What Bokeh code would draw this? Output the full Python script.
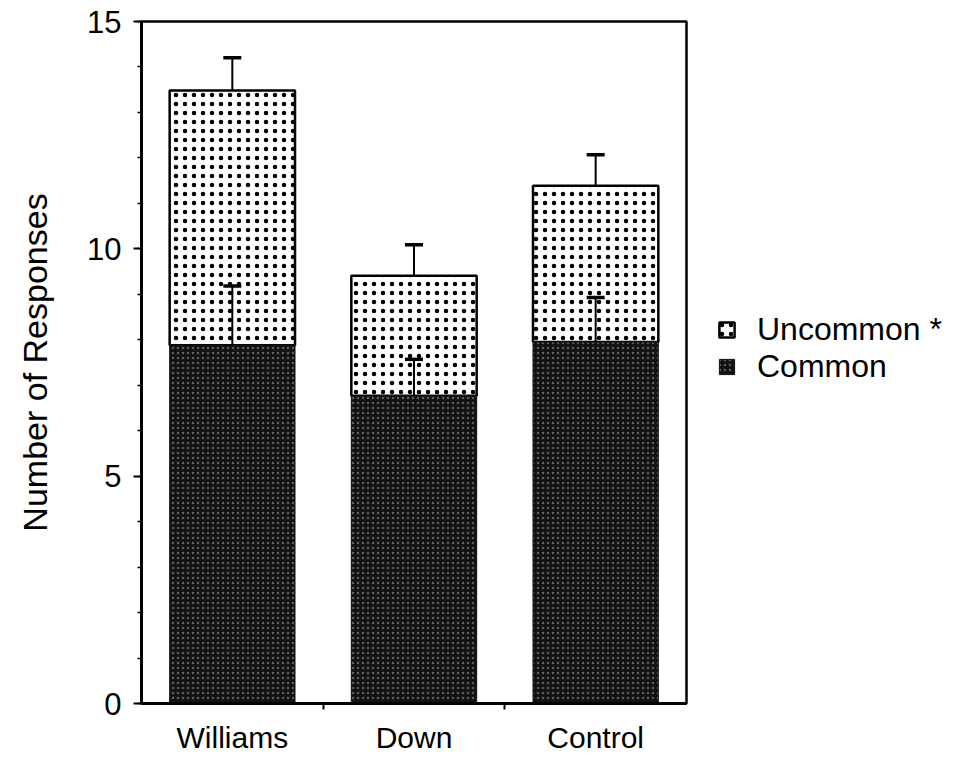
import numpy as np
from bokeh.plotting import figure
from bokeh.layouts import row
from bokeh.models import (Range1d, FixedTicker, Whisker, TeeHead, ColumnDataSource,
                          Legend, LegendItem)
from bokeh.embed import file_html
from bokeh.resources import INLINE

# ---- data ----
categories = ["Williams", "Down", "Control"]
common = [7.88, 6.77, 7.95]          # bottom (dark) segment
total = [13.48, 9.41, 11.39]          # top of stacked bar (common + uncommon)
common_err = [1.30, 0.80, 0.98]       # error bar above common segment
total_err = [0.72, 0.68, 0.68]        # error bar above total
y_ticks = [0, 5, 10, 15]
series_labels = ["Uncommon *", "Common"]

FONT = "Liberation Sans"

UNC_STYLE = dict(fill_color="white", line_color="black", line_width=2.5,
                 hatch_pattern="dot", hatch_color="black", hatch_scale=9, hatch_weight=3)
COM_STYLE = dict(fill_color="#121212", line_color="#121212", line_width=1,
                 hatch_pattern="dot", hatch_color="#9a9a9a", hatch_scale=5,
                 hatch_weight=1.2, hatch_alpha=0.55)

xs = [i + 0.5 for i in range(len(categories))]
src = ColumnDataSource(dict(
    x=xs, common=common, total=total,
    common_hi=[c + e for c, e in zip(common, common_err)],
    total_hi=[t + e for t, e in zip(total, total_err)],
))

p = figure(width=700, height=761, output_backend="svg", toolbar_location=None,
           x_range=Range1d(0, len(categories)), y_range=Range1d(0, 15),
           min_border_left=141, min_border_right=14, min_border_top=21,
           min_border_bottom=58)
p.background_fill_color = "white"
p.border_fill_color = "white"
p.outline_line_color = "black"
p.outline_line_width = 2.5
p.xgrid.visible = False
p.ygrid.visible = False

p.vbar(x="x", bottom="common", top="total", width=0.69, source=src, **UNC_STYLE)
p.vbar(x="x", bottom=0, top="common", width=0.69, source=src, **COM_STYLE)

for lo, hi in (("common", "common_hi"), ("total", "total_hi")):
    w = Whisker(base="x", lower=lo, upper=hi, source=src, dimension="height",
                line_color="black", line_width=2, level="overlay",
                upper_head=TeeHead(size=18, line_width=3.5, line_color="black"),
                lower_head=None)
    p.add_layout(w)

# x axis: labels at centres, ticks between categories
p.xaxis.ticker = FixedTicker(ticks=xs, minor_ticks=[1, 2])
p.xaxis.major_label_overrides = {x: c for x, c in zip(xs, categories)}
p.xaxis.major_tick_out = 0
p.xaxis.major_tick_in = 0
p.xaxis.minor_tick_out = 6
p.xaxis.minor_tick_in = 0
p.xaxis.minor_tick_line_width = 2
p.xaxis.axis_line_width = 3
p.xaxis.major_label_standoff = 11
p.xaxis.major_label_text_font_size = "30px"

p.yaxis.ticker = FixedTicker(ticks=y_ticks, minor_ticks=list(range(0, 16)))
p.yaxis.major_tick_out = 8
p.yaxis.major_tick_in = 0
p.yaxis.minor_tick_out = 4
p.yaxis.minor_tick_in = 0
p.yaxis.major_tick_line_width = 2
p.yaxis.minor_tick_line_width = 1.5
p.yaxis.axis_line_width = 3
p.yaxis.major_label_standoff = 12
p.yaxis.major_label_text_font_size = "31px"
p.yaxis.axis_label = "Number of Responses"
p.yaxis.axis_label_standoff = 30

for ax in (p.xaxis, p.yaxis):
    ax.major_label_text_font = FONT
    ax.major_label_text_color = "black"
    ax.axis_label_text_font = FONT
    ax.axis_label_text_font_size = "34px"
    ax.axis_label_text_font_style = "normal"
    ax.axis_label_text_color = "black"
    ax.axis_line_color = "black"

# ---- legend panel (separate figure to the right of the plot frame) ----
lg = figure(width=258, height=761, output_backend="svg", toolbar_location=None,
            x_range=Range1d(0, 1), y_range=Range1d(0, 1),
            min_border_left=0, min_border_right=0, min_border_top=0,
            min_border_bottom=0)
lg.axis.visible = False
lg.xgrid.visible = False
lg.ygrid.visible = False
lg.outline_line_color = None
lg.border_fill_color = "white"
# legend-only renderers: one NaN row each, so nothing is drawn in the panel
dummy = ColumnDataSource(dict(x=np.array([np.nan]), top=np.array([np.nan])))
r_unc = lg.vbar(x="x", top="top", width=0.1, source=dummy, **UNC_STYLE)
r_com = lg.vbar(x="x", top="top", width=0.1, source=dummy, **COM_STYLE)

legend = Legend(items=[LegendItem(label=series_labels[0], renderers=[r_unc], index=0),
                       LegendItem(label=series_labels[1], renderers=[r_com], index=0)],
                location=(17, 318), orientation="vertical",
                glyph_width=19, glyph_height=19, label_standoff=21,
                label_height=30, spacing=-5, padding=0, margin=0,
                border_line_color=None, background_fill_alpha=0,
                label_text_font=FONT, label_text_font_size="32px",
                label_text_color="black")
lg.add_layout(legend, "center")

layout = row(p, lg, spacing=0)
open("out.html", "w").write(file_html(layout, INLINE))
